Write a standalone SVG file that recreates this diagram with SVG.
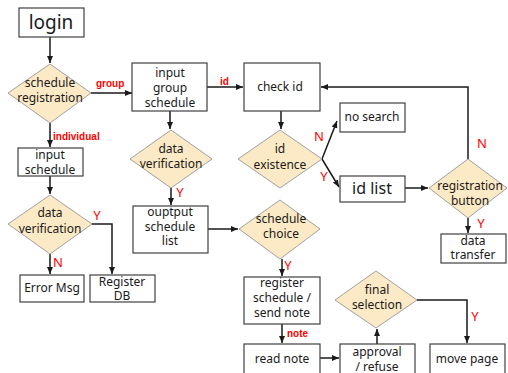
<svg xmlns="http://www.w3.org/2000/svg" width="508" height="373" viewBox="0 0 508 373">
<defs>
<marker id="ah" markerWidth="8" markerHeight="8" refX="7" refY="4" orient="auto" markerUnits="userSpaceOnUse">
<path d="M0,1 L7,4 L0,7 Z" fill="#1a1a1a"/>
</marker>
<style>
.box{fill:#fff;stroke:#404040;stroke-width:1.2}
.dia{fill:#fce9c5;stroke:#a0a0a0;stroke-width:1}
.t{font-family:"Noto Sans","Noto Sans CJK KR",sans-serif;font-size:12px;fill:#1a1a1a;text-anchor:middle}
.lbl{font-family:"Liberation Sans",Arial,sans-serif;font-size:10px;font-weight:bold;fill:#ff0000}
.yn{font-family:"Noto Sans",sans-serif;font-size:13px;fill:#ff0000;text-anchor:middle}
.c{fill:none;stroke:#1a1a1a;stroke-width:1.5}
</style>
</defs>
<rect width="508" height="373" fill="#fff"/>
<g id="connectors">
<path class="c" d="M50,37 V63" marker-end="url(#ah)"/>
<path class="c" d="M91,93 H132" marker-end="url(#ah)"/>
<path class="c" d="M50,123 V147" marker-end="url(#ah)"/>
<path class="c" d="M50,176 V194" marker-end="url(#ah)"/>
<path class="c" d="M50,254 V274" marker-end="url(#ah)"/>
<path class="c" d="M92,224 H112 V274" marker-end="url(#ah)"/>
<path class="c" d="M207,87 H243" marker-end="url(#ah)"/>
<path class="c" d="M170,111 V129" marker-end="url(#ah)"/>
<path class="c" d="M171,188 V205" marker-end="url(#ah)"/>
<path class="c" d="M208,229 H238" marker-end="url(#ah)"/>
<path class="c" d="M281,111 V129" marker-end="url(#ah)"/>
<path class="c" d="M322,159 L337,121" marker-end="url(#ah)"/>
<path class="c" d="M322,159 L339,187" marker-end="url(#ah)"/>
<path class="c" d="M405,188 H428" marker-end="url(#ah)"/>
<path class="c" d="M468,159 V87 H321" marker-end="url(#ah)"/>
<path class="c" d="M468,218 V233" marker-end="url(#ah)"/>
<path class="c" d="M282,259 V276" marker-end="url(#ah)"/>
<path class="c" d="M282,324 V343" marker-end="url(#ah)"/>
<path class="c" d="M320,358 H339" marker-end="url(#ah)"/>
<path class="c" d="M377,344 V329" marker-end="url(#ah)"/>
<path class="c" d="M417,300 H467 V343" marker-end="url(#ah)"/>
</g>
<g id="login"><rect class="box" x="19" y="8" width="65" height="29"/><text class="t" x="51" y="29" style="font-size:19px">login</text></g>
<g id="schedule-registration"><polygon class="dia" points="50,64 91,93 50,123 8,93"/><text class="t" x="50" y="87">schedule</text><text class="t" x="50" y="102">registration</text></g>
<g id="input-schedule"><rect class="box" x="18" y="148" width="65" height="28"/><text class="t" x="50" y="159">input</text><text class="t" x="50" y="174">schedule</text></g>
<g id="data-verification-1"><polygon class="dia" points="50,195 92,224 50,254 8,224"/><text class="t" x="50" y="217">data</text><text class="t" x="50" y="233">verification</text></g>
<g id="error-msg"><rect class="box" x="20" y="275" width="64" height="27"/><text class="t" x="52" y="292">Error Msg</text></g>
<g id="register-db"><rect class="box" x="90" y="275" width="65" height="27"/><text class="t" x="122" y="286">Register</text><text class="t" x="122" y="300">DB</text></g>
<g id="input-group-schedule"><rect class="box" x="132" y="63" width="75" height="48"/><text class="t" x="170" y="77">input</text><text class="t" x="170" y="92">group</text><text class="t" x="170" y="107">schedule</text></g>
<g id="data-verification-2"><polygon class="dia" points="171,130 212,159 171,188 130,159"/><text class="t" x="171" y="153">data</text><text class="t" x="171" y="168">verification</text></g>
<g id="output-schedule-list"><rect class="box" x="133" y="206" width="75" height="47"/><text class="t" x="170" y="216">ouptput</text><text class="t" x="170" y="231">schedule</text><text class="t" x="170" y="245">list</text></g>
<g id="check-id"><rect class="box" x="244" y="63" width="76" height="48"/><text class="t" x="280" y="91">check id</text></g>
<g id="id-existence"><polygon class="dia" points="280,130 322,159 280,188 238,159"/><text class="t" x="280" y="153">id</text><text class="t" x="280" y="169">existence</text></g>
<g id="no-search"><rect class="box" x="340" y="103" width="65" height="29"/><text class="t" x="372" y="121">no search</text></g>
<g id="id-list"><rect class="box" x="340" y="176" width="65" height="26"/><text class="t" x="372" y="194" style="font-size:16px">id list</text></g>
<g id="registration-button"><polygon class="dia" points="468,159 507,188 468,218 429,188"/><text class="t" x="470" y="190">registration</text><text class="t" x="470" y="205">button</text></g>
<g id="data-transfer"><rect class="box" x="441" y="234" width="65" height="29"/><text class="t" x="473" y="245">data</text><text class="t" x="473" y="259">transfer</text></g>
<g id="schedule-choice"><polygon class="dia" points="280,200 320,229 280,259 239,229"/><text class="t" x="281" y="223">schedule</text><text class="t" x="281" y="238">choice</text></g>
<g id="register-schedule"><rect class="box" x="244" y="277" width="76" height="47"/><text class="t" x="282" y="287">register</text><text class="t" x="282" y="302">schedule /</text><text class="t" x="282" y="317">send note</text></g>
<g id="read-note"><rect class="box" x="244" y="344" width="76" height="40"/><text class="t" x="282" y="363">read note</text></g>
<g id="approval-refuse"><rect class="box" x="340" y="344" width="75" height="40"/><text class="t" x="377" y="356">approval</text><text class="t" x="377" y="371">/ refuse</text></g>
<g id="final-selection"><polygon class="dia" points="376,271 417,300 376,328 335,300"/><text class="t" x="377" y="294">final</text><text class="t" x="377" y="309">selection</text></g>
<g id="move-page"><rect class="box" x="430" y="344" width="75" height="40"/><text class="t" x="467" y="363">move page</text></g>
<g id="labels">
<text class="lbl" x="96" y="87">group</text>
<text class="lbl" x="220" y="85">id</text>
<text class="lbl" x="53" y="140">individual</text>
<text class="lbl" x="287" y="337">note</text>
<text class="yn" x="319" y="141">N</text>
<text class="yn" x="324" y="181">Y</text>
<text class="yn" x="482" y="148">N</text>
<text class="yn" x="481" y="228">Y</text>
<text class="yn" x="180" y="197">Y</text>
<text class="yn" x="288" y="270">Y</text>
<text class="yn" x="97" y="220">Y</text>
<text class="yn" x="58" y="267">N</text>
<text class="yn" x="475" y="321">Y</text>
</g>
</svg>
